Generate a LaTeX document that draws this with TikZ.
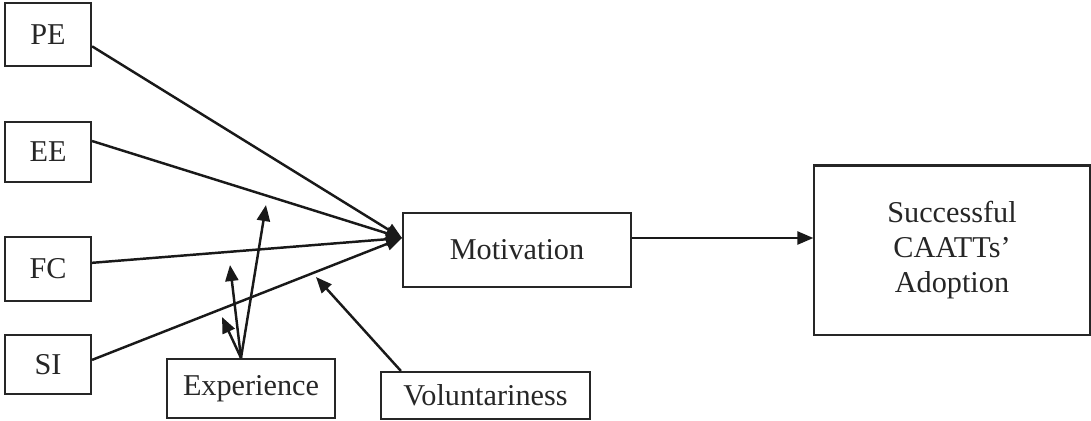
\documentclass[tikz,border=0pt]{standalone}
\usepackage{fontspec}
\setmainfont{Liberation Serif}
\usepackage{tikz}
\usetikzlibrary{positioning, arrows.meta, calc}

\begin{document}
\begin{tikzpicture}[x=0.01cm, y=-0.01cm,
  box/.style={draw=black!85, line width=0.6pt, inner sep=0pt, align=center,
    text=black!85, font=\fontsize{8.6}{10}\selectfont},
  link/.style={draw=black!90, line width=0.7pt, -{Triangle[length=1.6mm,width=1.3mm]}}]
\useasboundingbox (0,0) rectangle (1091,420);
% constructs
\node[box, minimum width=0.86cm, minimum height=0.63cm] (pe) at (48,34.5) {PE};
\node[box, minimum width=0.86cm, minimum height=0.60cm] (ee) at (48,152) {EE};
\node[box, minimum width=0.86cm, minimum height=0.64cm] (fc) at (48,269) {FC};
\node[box, minimum width=0.86cm, minimum height=0.59cm] (si) at (48,364.5) {SI};
\node[box, minimum width=2.28cm, minimum height=0.74cm] (mot) at (517,250) {Motivation};
\node[box, minimum width=2.75cm, minimum height=1.69cm] (succ) at (952,250) {Successful\\CAATTs'\\Adoption};
% moderators
\node[box, minimum width=1.68cm, minimum height=0.59cm] (exp) at (251,388.5) {Experience};
\node[box, minimum width=2.09cm, minimum height=0.47cm] (vol) at (485.5,395.5) {Voluntariness};
% free ends
\coordinate (hub) at (402,238);
\coordinate (e1) at (266,205);
\coordinate (e2) at (230,265);
\coordinate (e3) at (222,317);
\coordinate (v1) at (316,277);
% paths
\draw[link] (pe.-15) -- (hub);
\draw[link] (ee.14) -- (hub);
\draw[link] (fc.8) -- (hub);
\draw[link] (si.6) -- (hub);
\draw[link] ([yshift=0.12cm]mot.east) -- ([yshift=0.12cm]succ.west);
\draw[link] ([xshift=-0.1cm]exp.north) -- (e1);
\draw[link] ([xshift=-0.1cm]exp.north) -- (e2);
\draw[link] ([xshift=-0.1cm]exp.north) -- (e3);
\draw[link] ([xshift=0.21cm]vol.north west) -- (v1);
\end{tikzpicture}
\end{document}
